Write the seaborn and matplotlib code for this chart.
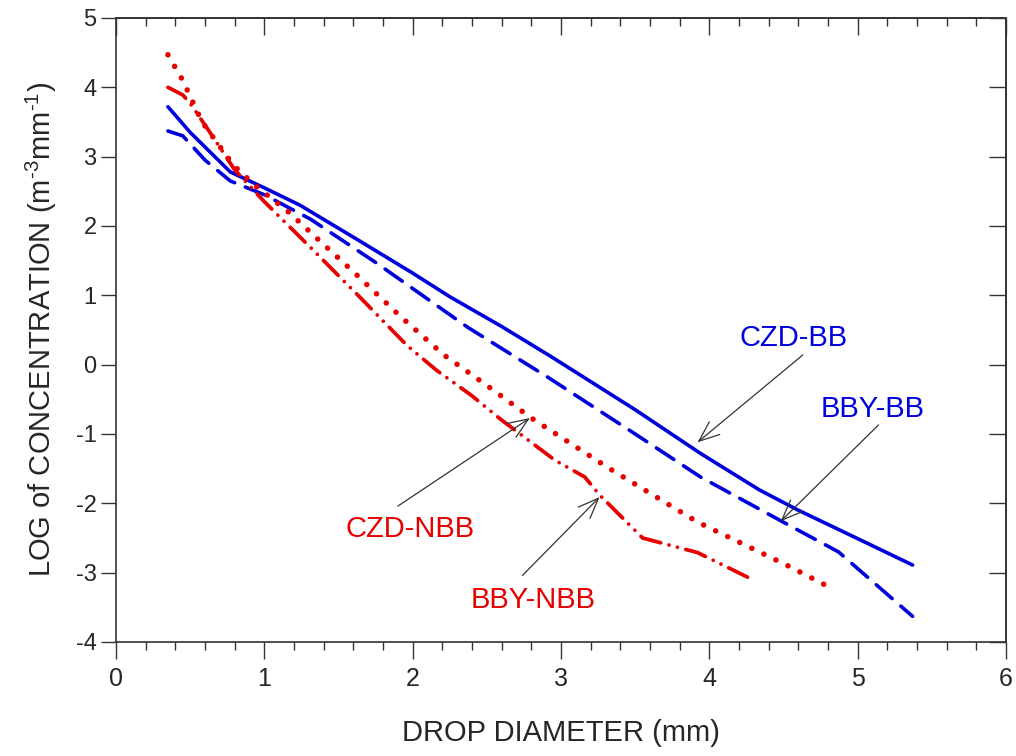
import matplotlib
matplotlib.use("Agg")
import matplotlib.pyplot as plt
import pandas as pd
import seaborn as sns
from matplotlib.ticker import MultipleLocator

# data (drop diameter mm, log concentration)
czd_bb_x = [0.35, 0.5, 0.77, 1.0, 1.24, 1.63, 2.0, 2.25, 2.6, 2.93, 3.5, 3.94, 4.34, 4.6, 5.02, 5.37]
czd_bb_y = [3.72, 3.35, 2.78, 2.55, 2.3, 1.8, 1.32, 0.98, 0.55, 0.12, -0.65, -1.28, -1.81, -2.1, -2.53, -2.89]

bby_bb_x = [0.35, 0.45, 0.6, 0.77, 1.0, 1.31, 1.76, 2.37, 2.91, 3.5, 3.94, 4.48, 4.87, 5.37]
bby_bb_y = [3.37, 3.3, 2.95, 2.65, 2.45, 2.1, 1.46, 0.54, -0.18, -1.0, -1.62, -2.25, -2.7, -3.63]

czd_nbb_x = [0.35, 0.45, 0.58, 0.79, 0.94, 1.17, 1.31, 1.61, 1.91, 2.21, 2.5, 2.8, 3.32, 3.62, 3.92, 4.22, 4.52, 4.81]
czd_nbb_y = [4.47, 4.1, 3.5, 2.88, 2.58, 2.19, 1.91, 1.32, 0.71, 0.14, -0.3, -0.77, -1.49, -1.88, -2.27, -2.58, -2.89, -3.21]

bby_nbb_x = [0.35, 0.45, 0.5, 0.63, 0.8, 1.0, 1.33, 1.65, 1.96, 2.16, 2.4, 2.6, 2.96, 3.16, 3.26, 3.55, 3.92, 4.3]
bby_nbb_y = [4.0, 3.89, 3.77, 3.36, 2.81, 2.35, 1.65, 0.96, 0.28, -0.08, -0.45, -0.8, -1.38, -1.62, -1.88, -2.5, -2.71, -3.11]

# labels and arrows (text pos, arrow tail, arrow head)
labels = ["CZD-BB", "BBY-BB", "CZD-NBB", "BBY-NBB"]
label_pos = [(4.57, 0.38), (5.10, -0.64), (1.98, -2.37), (2.81, -3.40)]
arrow_tail = [(4.63, 0.14), (5.14, -0.87), (1.90, -2.04), (2.74, -3.04)]
arrow_head = [(3.92, -1.12), (4.48, -2.26), (2.79, -0.77), (3.26, -1.91)]

blue = "#0000dd"
red = "#e60000"

sns.set_style("ticks")
plt.rcParams["font.family"] = ["Liberation Sans", "DejaVu Sans"]
plt.rcParams["axes.unicode_minus"] = False
plt.rcParams["mathtext.fontset"] = "custom"
plt.rcParams["mathtext.rm"] = "Liberation Sans"
plt.rcParams["mathtext.it"] = "Liberation Sans:italic"

fig = plt.figure(figsize=(10.16, 7.56), dpi=100)
ax = fig.add_axes([0.1142, 0.1508, 0.876, 0.8254])

series = [
    (czd_bb_x, czd_bb_y, blue, "-", 2.6),
    (bby_bb_x, bby_bb_y, blue, (0, (5.8, 3.2)), 2.6),
    (czd_nbb_x, czd_nbb_y, red, (0, (0.01, 2.4)), 4.0),
    (bby_nbb_x, bby_nbb_y, red, (0, (5.6, 2.3, 0.01, 2.3, 0.01, 2.3)), 2.7),
]
for xs, ys, col, ls, lw in series:
    df = pd.DataFrame({"d": xs, "c": ys})
    sns.lineplot(data=df, x="d", y="c", ax=ax, color=col, linestyle=ls, lw=lw,
                 sort=False, estimator=None, dash_capstyle="round")

cols = [blue, blue, red, red]
for lab, pos, tail, head, col in zip(labels, label_pos, arrow_tail, arrow_head, cols):
    ax.text(pos[0], pos[1], lab, color=col, fontsize=21, ha="center", va="center")
    ax.annotate("", xy=head, xytext=tail,
                arrowprops=dict(arrowstyle="->,head_length=0.7,head_width=0.28",
                                lw=0.9, color="#333333", shrinkA=0, shrinkB=0,
                                mutation_scale=21))

ax.set_xlim(0, 6)
ax.set_ylim(-4, 5)
ax.set_xticks(range(0, 7))
ax.set_yticks(range(-4, 6))
ax.xaxis.set_minor_locator(MultipleLocator(0.2))
ax.tick_params(axis="x", which="major", direction="out", length=12, width=1,
               labelsize=18, pad=6, color="#333333")
ax.tick_params(axis="x", which="minor", direction="out", length=6, width=1, color="#333333")
ax.tick_params(axis="y", which="major", direction="out", length=11, width=1,
               labelsize=17, pad=3, color="#333333")

# top and right frame ticks point inwards
top = ax.secondary_xaxis("top")
top.set_xticks(range(0, 7))
top.xaxis.set_minor_locator(MultipleLocator(0.2))
top.tick_params(which="major", direction="in", length=12, width=1, labeltop=False, color="#333333")
top.tick_params(which="minor", direction="in", length=6, width=1, color="#333333")
right = ax.secondary_yaxis("right")
right.set_yticks(range(-4, 6))
right.tick_params(which="major", direction="in", length=12, width=1, labelright=False, color="#333333")

for sp in list(ax.spines.values()) + [top.spines["top"], right.spines["right"]]:
    sp.set_linewidth(1.2)
    sp.set_color("#333333")

ax.set_xlabel("DROP DIAMETER (mm)", fontsize=21, labelpad=20)
ax.set_ylabel("LOG of CONCENTRATION (m$^{\\text{-3}}$mm$^{\\text{-1}}$)", fontsize=21, labelpad=12)

fig.savefig("out.png", dpi=100)
